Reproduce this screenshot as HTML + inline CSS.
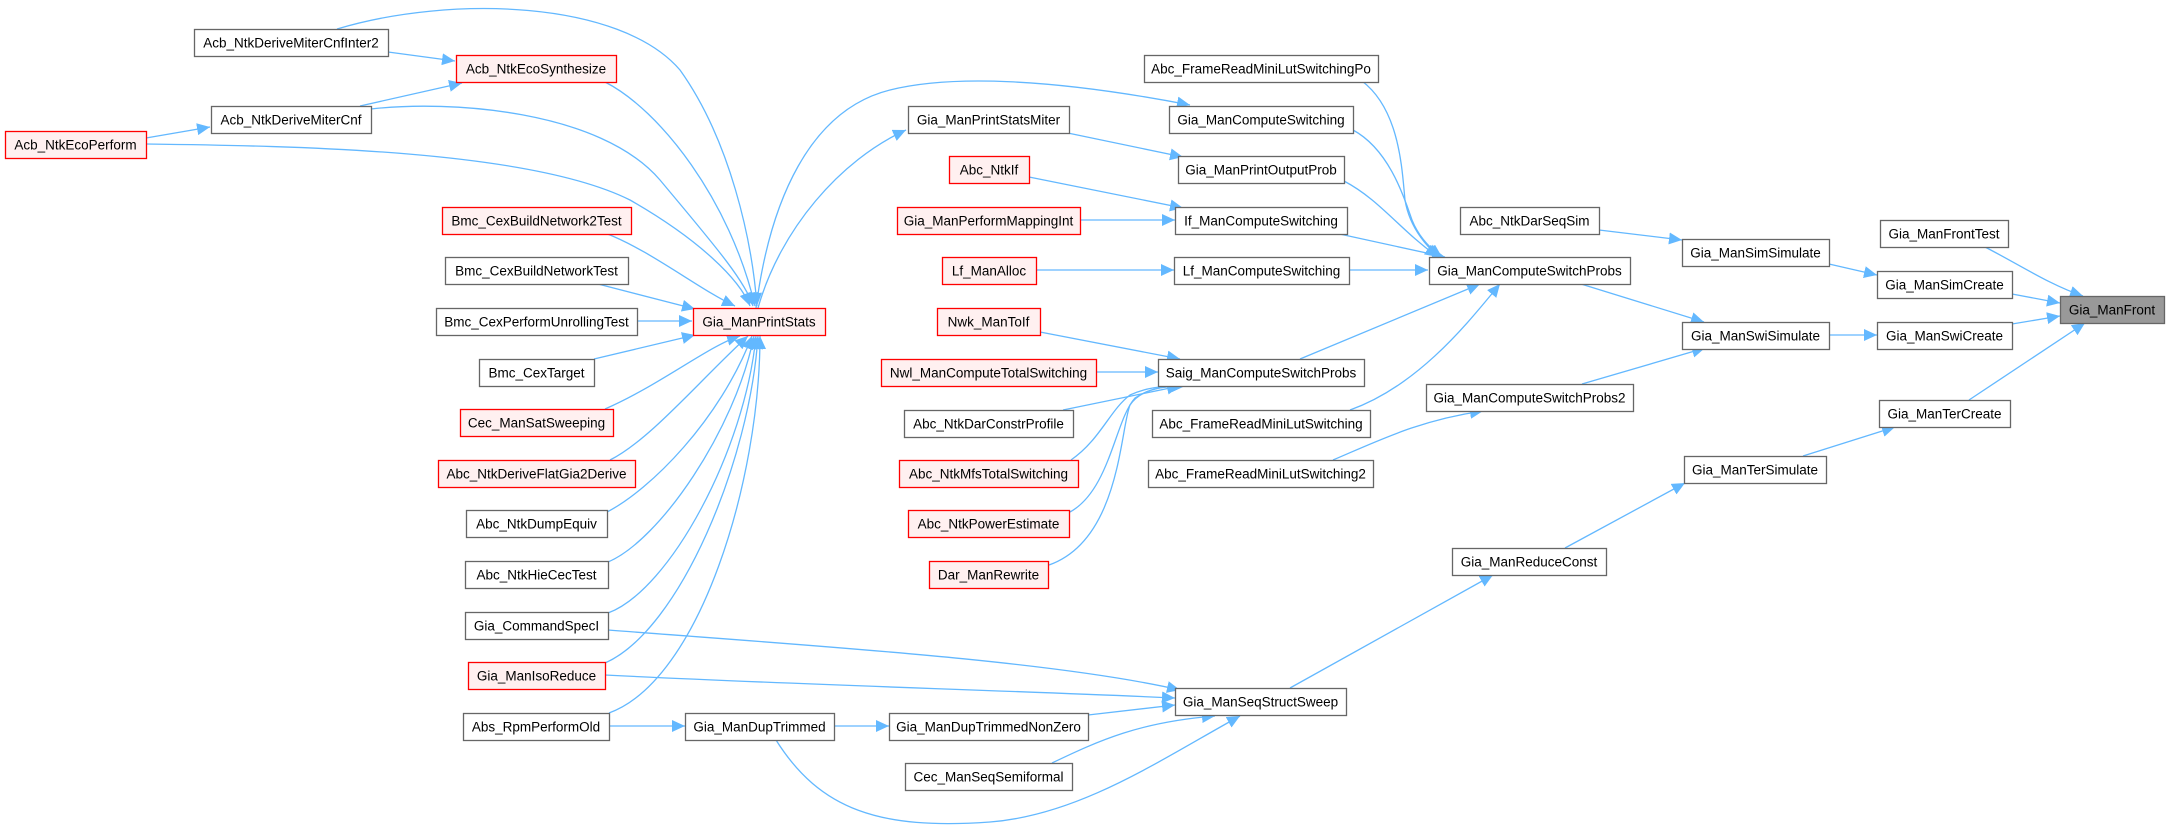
<!DOCTYPE html>
<html><head><meta charset="utf-8"><style>
html,body{margin:0;padding:0;background:#fff;}
svg{display:block;}
text{font-family:"Liberation Sans",Arial,sans-serif;font-size:13.5px;fill:#000;text-anchor:middle;}
.e{fill:none;stroke:#63b8ff;stroke-width:1.3;marker-end:url(#a);}
</style></head><body>
<svg width="2169" height="828" viewBox="0 0 2169 828" xmlns="http://www.w3.org/2000/svg">
<defs><marker id="a" markerUnits="userSpaceOnUse" markerWidth="14" markerHeight="12" refX="13" refY="6" orient="auto"><path d="M0,0 L13,6 L0,12 z" fill="#63b8ff"/></marker></defs>
<g>
<path class="e" d="M337,29 C450,-5 620,0 680,70 C730,140 752,240 757,306"/>
<path class="e" d="M605,82 C660,110 730,200 755,306"/>
<path class="e" d="M371,109 C450,100 600,110 660,180 C710,240 745,280 753,306"/>
<path class="e" d="M146,144 C300,146 530,150 630,200 C700,240 740,280 750,306"/>
<path class="e" d="M360,106 L462,83"/>
<path class="e" d="M388,52 L455,61"/>
<path class="e" d="M146,138 L210,127"/>
<path class="e" d="M605,233 C650,250 700,290 735,306"/>
<path class="e" d="M598,284 L695,309"/>
<path class="e" d="M637,321 L692,321"/>
<path class="e" d="M594,359 L695,335"/>
<path class="e" d="M605,409 C660,385 710,345 740,336"/>
<path class="e" d="M610,460 C650,440 700,380 748,336"/>
<path class="e" d="M607,512 C650,490 720,420 752,336"/>
<path class="e" d="M608,562 C660,540 735,430 754,336"/>
<path class="e" d="M608,613 C670,590 745,450 756,336"/>
<path class="e" d="M605,663 C680,630 750,460 758,336"/>
<path class="e" d="M609,713 C700,680 760,480 760,336"/>
<path class="e" d="M758,308 C780,230 840,160 906,130"/>
<path class="e" d="M756,308 C770,200 810,110 890,90 C950,75 1050,78 1190,105"/>
<path class="e" d="M1063,132 L1183,157"/>
<path class="e" d="M1362,81 C1400,110 1402,170 1405,200 C1410,230 1430,250 1440,257"/>
<path class="e" d="M1353,130 C1390,150 1405,200 1412,220 C1420,240 1435,252 1442,257"/>
<path class="e" d="M1344,181 C1380,200 1400,230 1438,257"/>
<path class="e" d="M1335,233 L1445,257"/>
<path class="e" d="M1349,270 L1428,270"/>
<path class="e" d="M1300,359 L1480,284"/>
<path class="e" d="M1350,410 C1420,385 1470,320 1500,284"/>
<path class="e" d="M1581,284 L1704,322"/>
<path class="e" d="M1599,230 L1682,240"/>
<path class="e" d="M1582,384 L1705,348"/>
<path class="e" d="M1829,264 L1877,275"/>
<path class="e" d="M1829,335 L1877,335"/>
<path class="e" d="M1985,247 C2020,265 2050,285 2083,296"/>
<path class="e" d="M2012,294 L2060,303"/>
<path class="e" d="M2012,324 L2060,316"/>
<path class="e" d="M1969,400 L2085,323"/>
<path class="e" d="M1803,456 L1895,427"/>
<path class="e" d="M1565,548 L1685,483"/>
<path class="e" d="M1290,688 L1493,575"/>
<path class="e" d="M1333,460 C1380,440 1420,420 1483,411"/>
<path class="e" d="M1029,177 L1183,208"/>
<path class="e" d="M1080,220 L1175,220"/>
<path class="e" d="M1036,270 L1174,270"/>
<path class="e" d="M1040,332 L1180,359"/>
<path class="e" d="M1096,372 L1158,372"/>
<path class="e" d="M1063,410 L1180,386"/>
<path class="e" d="M1071,460 C1100,440 1110,410 1130,395 C1145,388 1160,386 1182,386"/>
<path class="e" d="M1070,512 C1110,490 1115,420 1135,398 C1150,388 1165,386 1185,386"/>
<path class="e" d="M1049,565 C1120,540 1120,430 1130,405 C1140,390 1160,386 1185,386"/>
<path class="e" d="M608,630 C800,645 1050,660 1180,690"/>
<path class="e" d="M605,675 C800,685 1000,690 1175,698"/>
<path class="e" d="M1088,715 L1175,705"/>
<path class="e" d="M1052,763 C1100,740 1140,722 1215,716"/>
<path class="e" d="M776,740 C820,810 880,830 990,822 C1080,815 1160,760 1240,716"/>
<path class="e" d="M834,726 L889,726"/>
<path class="e" d="M609,726 L685,726"/>
</g>
<g id="nodes"></g>
</svg>
<script>
var N=[
[194,29,194,"Acb_NtkDeriveMiterCnfInter2",0],
[456,55,160,"Acb_NtkEcoSynthesize",1],
[211,106,160,"Acb_NtkDeriveMiterCnf",0],
[5,131,141,"Acb_NtkEcoPerform",1],
[442,207,189,"Bmc_CexBuildNetwork2Test",1],
[445,257,183,"Bmc_CexBuildNetworkTest",0],
[436,308,201,"Bmc_CexPerformUnrollingTest",0],
[479,359,115,"Bmc_CexTarget",0],
[460,409,153,"Cec_ManSatSweeping",1],
[438,460,197,"Abc_NtkDeriveFlatGia2Derive",1],
[466,510,141,"Abc_NtkDumpEquiv",0],
[465,561,143,"Abc_NtkHieCecTest",0],
[465,612,143,"Gia_CommandSpecI",0],
[468,662,137,"Gia_ManIsoReduce",1],
[463,713,146,"Abs_RpmPerformOld",0],
[693,308,132,"Gia_ManPrintStats",1],
[685,713,149,"Gia_ManDupTrimmed",0],
[908,106,161,"Gia_ManPrintStatsMiter",0],
[949,156,80,"Abc_NtkIf",1],
[897,207,183,"Gia_ManPerformMappingInt",1],
[942,257,94,"Lf_ManAlloc",1],
[937,308,103,"Nwk_ManToIf",1],
[881,359,215,"Nwl_ManComputeTotalSwitching",1],
[904,410,169,"Abc_NtkDarConstrProfile",0],
[899,460,179,"Abc_NtkMfsTotalSwitching",1],
[908,510,161,"Abc_NtkPowerEstimate",1],
[929,561,119,"Dar_ManRewrite",1],
[889,713,199,"Gia_ManDupTrimmedNonZero",0],
[905,763,167,"Cec_ManSeqSemiformal",0],
[1144,55,234,"Abc_FrameReadMiniLutSwitchingPo",0],
[1169,106,184,"Gia_ManComputeSwitching",0],
[1178,156,166,"Gia_ManPrintOutputProb",0],
[1175,207,172,"If_ManComputeSwitching",0],
[1174,257,175,"Lf_ManComputeSwitching",0],
[1158,359,206,"Saig_ManComputeSwitchProbs",0],
[1152,410,218,"Abc_FrameReadMiniLutSwitching",0],
[1148,460,225,"Abc_FrameReadMiniLutSwitching2",0],
[1175,688,171,"Gia_ManSeqStructSweep",0],
[1429,257,201,"Gia_ManComputeSwitchProbs",0],
[1460,207,139,"Abc_NtkDarSeqSim",0],
[1426,384,207,"Gia_ManComputeSwitchProbs2",0],
[1452,548,154,"Gia_ManReduceConst",0],
[1682,239,147,"Gia_ManSimSimulate",0],
[1682,322,147,"Gia_ManSwiSimulate",0],
[1684,456,142,"Gia_ManTerSimulate",0],
[1880,220,128,"Gia_ManFrontTest",0],
[1877,271,135,"Gia_ManSimCreate",0],
[1877,322,135,"Gia_ManSwiCreate",0],
[1879,400,131,"Gia_ManTerCreate",0],
[2060,296,104,"Gia_ManFront",2]];
var g=document.getElementById("nodes"),s="";
N.forEach(function(n){
 var fill=n[4]==1?"#fff0f0":(n[4]==2?"#999999":"#ffffff");
 var st=n[4]==1?"#ff0000":"#666666";
 s+='<rect x="'+(n[0]+0.5)+'" y="'+(n[1]+0.5)+'" width="'+n[2]+'" height="27" fill="'+fill+'" stroke="'+st+'" stroke-width="1.3"/>';
 s+='<text x="'+(n[0]+n[2]/2)+'" y="'+(n[1]+18.5)+'">'+n[3]+'</text>';
});
g.innerHTML=s;
</script>
</body></html>
